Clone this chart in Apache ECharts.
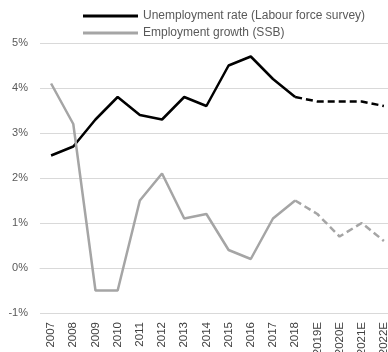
<!DOCTYPE html>
<html><head><meta charset="utf-8">
<script src="https://cdn.jsdelivr.net/npm/echarts@6/dist/echarts.min.js"></script>
<style>html,body{margin:0;padding:0;background:#fff}#c{width:388px;height:352px}</style>
</head><body><div id="c"></div>
<script>
const categories = ['2007','2008','2009','2010','2011','2012','2013','2014','2015','2016','2017','2018','2019E','2020E','2021E','2022E'];
const unemployment = [2.5,2.7,3.3,3.8,3.4,3.3,3.8,3.6,4.5,4.7,4.2,3.8,3.7,3.7,3.7,3.6];
const employmentGrowth = [4.1,3.2,-0.5,-0.5,1.5,2.1,1.1,1.2,0.4,0.2,1.1,1.5,1.2,0.7,1.0,0.6];
const forecastStart = 11; // index of 2018
const yTicks = [-1,0,1,2,3,4,5];

function solidPart(arr){return arr.map((v,i)=> i<=forecastStart ? v : null);}
function dashPart(arr){return arr.map((v,i)=> i>=forecastStart ? v : null);}

const chart = echarts.init(document.getElementById('c'));
const font = 'Liberation Sans, Arial, sans-serif';
chart.setOption({
  animation:false,
  textStyle:{fontFamily:font},
  legend:{
    orient:'vertical', left:78, top:5, itemGap:5,
    itemWidth:55, itemHeight:3,
    data:[{name:'Unemployment rate (Labour force survey)',icon:'rect'},{name:'Employment growth (SSB)',icon:'rect'}],
    textStyle:{color:'#595959',fontSize:12,fontFamily:font}
  },
  grid:{left:40,right:-7,top:43,bottom:39,containLabel:false,outerBoundsMode:'none'},
  xAxis:{
    type:'category', data:categories, boundaryGap:true,
    axisLine:{show:true,lineStyle:{color:'#D9D9D9'}},
    axisTick:{show:false},
    axisLabel:{rotate:90,color:'#404040',fontSize:11.5,margin:9,fontFamily:font,interval:0}
  },
  yAxis:{
    type:'value', min:yTicks[0], max:yTicks[yTicks.length-1], interval:1,
    axisLine:{show:false}, axisTick:{show:false},
    axisLabel:{formatter:v=>v+'%',color:'#595959',fontSize:11,margin:12,fontFamily:font},
    splitLine:{lineStyle:{color:'#D9D9D9'}}
  },
  series:[
    {name:'Unemployment rate (Labour force survey)',type:'line',data:solidPart(unemployment),symbol:'none',lineStyle:{color:'#000',width:2.5},itemStyle:{color:'#000'}},
    {name:'Unemployment forecast',type:'line',data:dashPart(unemployment),symbol:'none',lineStyle:{color:'#000',width:2.5,type:[7,4]},itemStyle:{color:'#000'}},
    {name:'Employment growth (SSB)',type:'line',data:solidPart(employmentGrowth),symbol:'none',lineStyle:{color:'#A5A5A5',width:2.5},itemStyle:{color:'#A5A5A5'}},
    {name:'Employment forecast',type:'line',data:dashPart(employmentGrowth),symbol:'none',lineStyle:{color:'#A5A5A5',width:2.5,type:[7,4]},itemStyle:{color:'#A5A5A5'}}
  ]
});
</script></body></html>
